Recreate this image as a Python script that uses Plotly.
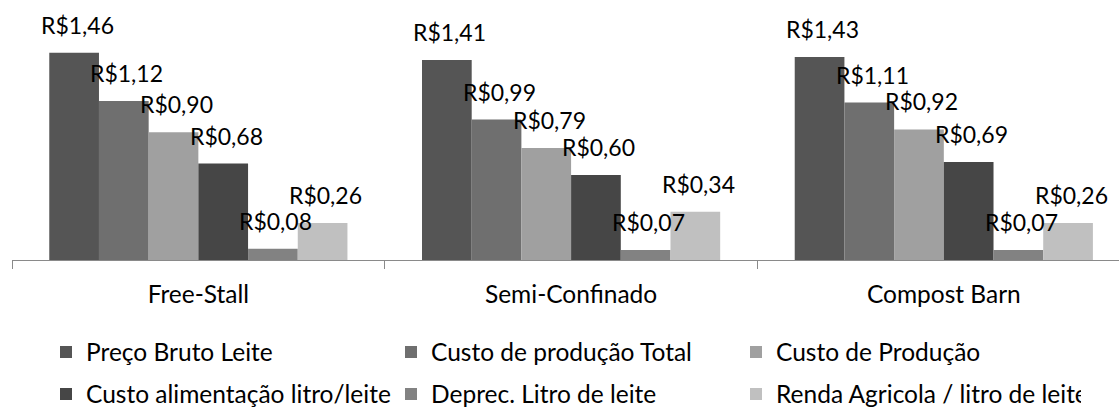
import plotly.graph_objects as go

categories = ["Free-Stall", "Semi-Confinado", "Compost Barn"]
series_names = [
    "Preço Bruto Leite",
    "Custo de produção Total",
    "Custo de Produção",
    "Custo alimentação litro/leite",
    "Deprec. Litro de leite",
    "Renda Agricola / litro de leite",
]
preco_bruto = [1.46, 1.41, 1.43]
custo_total = [1.12, 0.99, 1.11]
custo_producao = [0.90, 0.79, 0.92]
custo_alimentacao = [0.68, 0.60, 0.69]
deprec = [0.08, 0.07, 0.07]
renda = [0.26, 0.34, 0.26]
series_values = [preco_bruto, custo_total, custo_producao, custo_alimentacao, deprec, renda]

colors = ["#555555", "#6f6f6f", "#a0a0a0", "#464646", "#828282", "#c0c0c0"]
FONT = "Lato, 'Liberation Sans', Arial, sans-serif"
FS_LABEL = 23
FS_TEXT = 24.5
W, H = 1119, 412
BARGAP = 0.2
n_series = len(series_names)

def fmt(v):
    return "R$" + f"{v:.2f}".replace(".", ",")

fig = go.Figure()
for j, (name, vals) in enumerate(zip(series_names, series_values)):
    fig.add_trace(go.Bar(
        x=categories, y=vals, name=name,
        marker=dict(color=colors[j], line=dict(width=0)),
        legend="legend" if j < 3 else "legend2",
        hoverinfo="skip",
    ))

annotations = []
slot = (1 - BARGAP) / n_series
for j, vals in enumerate(series_values):
    for i, v in enumerate(vals):
        annotations.append(dict(
            x=i - (1 - BARGAP) / 2 + (j + 0.5) * slot, y=v,
            xref="x", yref="y", text=fmt(v), showarrow=False,
            xanchor="center", yanchor="bottom", yshift=12, xshift=3,
            font=dict(family=FONT, size=FS_LABEL, color="#000000"),
        ))

legend_common = dict(
    orientation="h", xref="container", yref="container",
    xanchor="left", yanchor="middle",
    entrywidth=300, entrywidthmode="pixels",
    font=dict(family=FONT, size=FS_TEXT, color="#000000"),
    bgcolor="rgba(0,0,0,0)", traceorder="normal",
)

fig.update_layout(
    width=W, height=H,
    margin=dict(l=12, r=0, t=33, b=152, pad=0),
    paper_bgcolor="white", plot_bgcolor="white",
    barmode="group", bargap=BARGAP, bargroupgap=0,
    font=dict(family=FONT, size=FS_TEXT, color="#000000"),
    showlegend=True,
    legend=dict(x=46 / W, y=1 - 352 / H, **legend_common),
    legend2=dict(x=46 / W, y=1 - 394 / H, **legend_common),
    annotations=annotations,
    xaxis=dict(
        type="category", range=[-0.5, 2.47],
        showline=True, linecolor="#8a8a8a", linewidth=1,
        ticks="outside", tickson="boundaries", ticklen=8, tickcolor="#8a8a8a", tickwidth=1,
        ticklabelstandoff=13,
        showgrid=False, zeroline=False,
        tickfont=dict(family=FONT, size=FS_TEXT, color="#000000"),
    ),
    yaxis=dict(
        range=[0, 1.6], showgrid=False, zeroline=False, showline=False,
        showticklabels=False, ticks="",
    ),
)

fig.write_html(
    "out.html",
    config={"displayModeBar": False},
    post_script="document.body.style.margin='0';",
)
